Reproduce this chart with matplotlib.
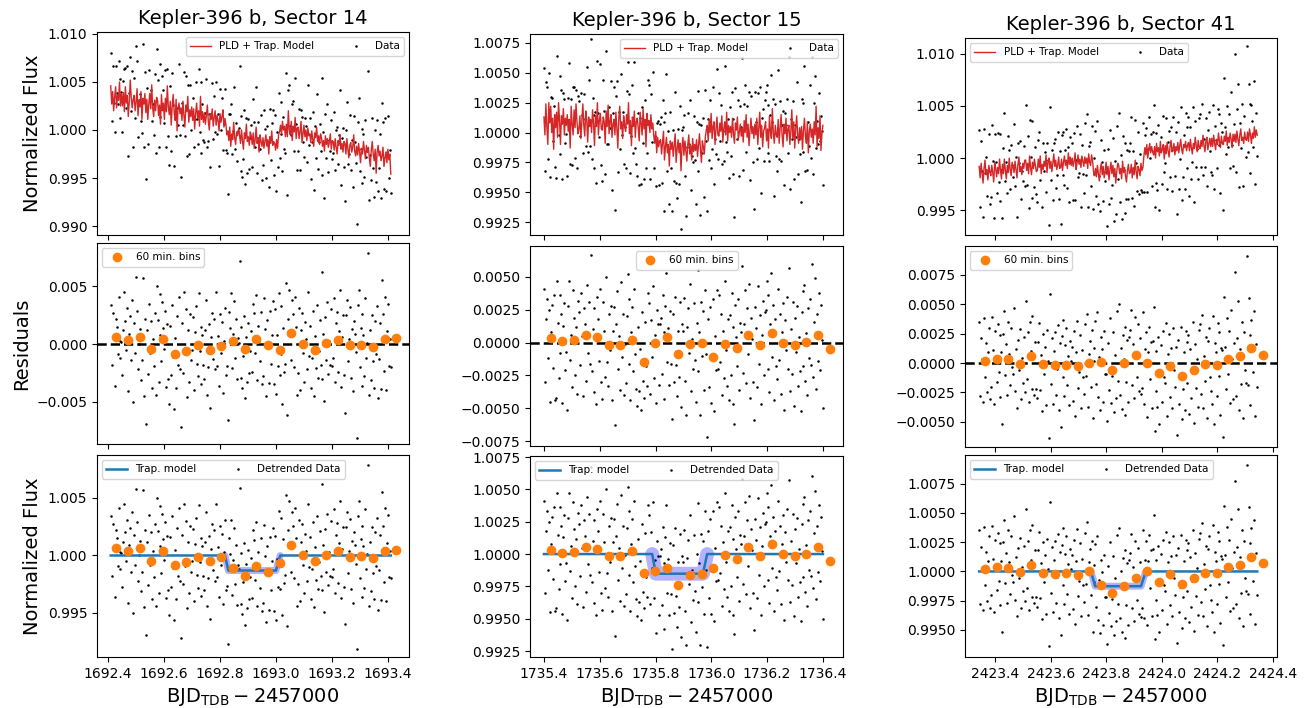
import numpy as np
import matplotlib
matplotlib.use("Agg")
import matplotlib.pyplot as plt
from matplotlib.ticker import MultipleLocator

# ==========================
# DATA (flux values in units of 1e-4, one row = one 60 min. chunk)
# ==========================

TITLES = ["Kepler-396 b, Sector 14", "Kepler-396 b, Sector 15", "Kepler-396 b, Sector 41"]

T_START = [1692.41, 1735.40, 2423.343]
T_END = [1693.41, 1736.40, 2424.343]

RESID_S14 = [
    [34, -18, 27, 8, -36, 22, 15, -9, 41, 3, -12, 2],
    [-27, 12, 45, 20, -5, 31, -41, 9, 24, -14, 38, -50],
    [18, -8, 58, 29, -22, 0, 13, -31, -14, 57, -45, 22],
    [-69, 12, -26, 35, -8, 20, -38, 4, -19, 27, -44, 50],
    [21, -33, 43, 8, -15, 36, 14, -4, 29, -37, 17, -30],
    [-52, 16, -27, 34, -11, -56, 5, -38, 24, -18, 41, -22],
    [-72, 18, -25, 45, -9, 30, -46, 12, -33, 26, -14, -5],
    [23, -40, 10, 33, -17, -28, 44, -6, 15, -35, 8, -18],
    [-30, 12, 38, -44, -20, 17, -55, 6, 27, -13, 22, -22],
    [45, -19, 7, -36, 26, -8, 19, -42, 3, 31, -27, -19],
    [-66, 28, 14, 44, -21, 9, 37, -12, 22, -30, 5, 1],
    [72, -29, 15, -38, -10, 24, -47, 6, -33, 18, -25, -6],
    [11, -24, 35, 27, -8, 42, -31, 16, 3, -15, 28, -35],
    [-28, 40, 13, -45, 21, -3, -34, 29, -17, 8, 37, -35],
    [30, -43, 8, -19, 44, -27, -9, 33, -52, 14, -24, -17],
    [53, -61, 22, 47, 9, -14, 38, 26, -20, 41, 15, -44],
    [-25, 31, -40, 12, 27, -8, -33, 19, 4, -22, 45, -10],
    [16, -38, -12, 29, -45, 7, -21, 34, -29, -6, 21, -18],
    [62, -30, 9, -49, 23, -14, 36, -26, 3, -18, 30, -19],
    [-12, 40, -33, 18, 28, -24, 11, 47, -37, 6, 25, -27],
    [-60, 25, 38, -15, 4, 32, -29, 13, -41, 20, 9, -7],
    [-81, 34, 47, -20, 14, -36, 26, 8, -28, 40, -12, 1],
    [79, -44, 12, -31, 25, -15, -38, 20, -9, 33, -47, -13],
    [18, -39, 55, 26, -23, 41, -40, 11, 35, -19, 4, -20],
]

PLD_S14 = [
    [46, 27, 40, 20, 34, 45, 23, 36, 31, 50, 25, 38],
    [25, 39, 19, 45, 28, 36, 14, 30, 52, 34, 23, 32],
    [36, 20, 29, 43, 15, 31, 24, 40, 11, 33, 27, 38],
    [18, 32, 11, 27, 38, 22, 47, 23, 14, 31, 20, 34],
    [31, 15, 26, 6, 37, 20, 28, 11, 33, 19, 46, 24],
    [16, 30, 5, 25, 37, 19, 10, 32, -1, 23, 28, 17],
    [23, 10, 30, 15, 3, 26, 19, 35, 8, 21, 14, 24],
    [10, 22, 1, 17, 28, 13, 20, 4, 35, 11, 19, 8],
    [18, 6, 15, 26, 9, 0, 17, 11, 22, 4, 13, 20],
    [5, 15, 10, -1, 17, 8, 14, 21, 3, 12, 6, -5],
    [-1, -11, 3, -17, -4, -10, 8, -8, -15, -2, -6, 1],
    [-5, -14, 0, -11, -20, -3, -9, 6, -12, -7, -16, -2],
    [-6, -15, -3, -19, -10, 3, -14, -8, -23, -5, -12, -17],
    [-8, -19, -12, -5, -17, -10, -25, -7, -14, -1, -16, -12],
    [-14, -21, -10, -19, -5, -2, 5, -4, 9, 0, 4, -7],
    [6, -7, 20, 0, -5, 9, -11, 4, -2, 13, -9, 2],
    [3, -9, -2, 9, -13, -4, 5, -7, 0, -11, 2, -6],
    [-4, -13, -1, -10, -17, -3, -8, 3, -12, -6, -15, -4],
    [-8, -17, -11, -22, -6, -15, -9, -18, -13, -4, -20, -11],
    [-12, -21, -9, -18, -25, -11, -16, -5, -20, -14, -23, -12],
    [-14, -25, -9, -20, -29, -16, -13, -23, -18, -5, -22, -27],
    [-17, -26, -14, -23, -34, -19, -25, -12, -21, -30, -16, -23],
    [-18, -29, -38, -21, -12, -25, -32, -20, -45, -23, -16, -27],
    [-22, -32, -27, -18, -38, -29, -23, -34, -20, -31, -25, -46],
]

RESID_S15 = [
    [41, -30, 18, 33, -12, 25, -45, 8, 29, -19, 36, -44],
    [-42, 47, 15, -27, 36, -8, 22, -46, 13, 30, -21, -7],
    [-51, 28, 47, -13, 6, -34, 40, 19, -25, 12, -39, 32],
    [23, -17, 38, 5, -41, 26, 14, -29, 44, -8, 31, -16],
    [67, -22, 10, -38, 26, 3, -47, 35, 18, -14, 41, -30],
    [-43, 31, 9, -26, 50, -15, -33, 22, -6, 28, -44, 9],
    [27, -63, 14, 39, -20, 5, -36, 46, -11, 22, -40, -1],
    [-31, 20, 52, -16, 33, -44, 8, 27, -22, 41, -9, -35],
    [-48, 12, -37, -5, -51, 23, -29, -42, 16, -18, -33, 38],
    [30, -39, 17, -11, 43, -27, 6, -46, 25, 14, -32, 14],
    [19, -24, 36, 8, -43, 28, 53, -15, 11, -32, 24, -16],
    [-58, 22, -30, 35, -17, -41, 9, -26, 31, -49, 14, 9],
    [34, -29, -55, 12, 26, -8, 45, -37, 3, -20, 30, -13],
    [-45, 15, 55, -22, 8, -55, 31, -10, 24, -36, 40, -9],
    [-72, 18, -34, 27, -46, -9, 33, -52, 5, -21, 40, -20],
    [36, -15, 22, -40, 9, -27, 47, -6, -33, 18, -44, 21],
    [-25, 38, -47, 12, -62, 29, 4, -18, 33, -36, 15, 8],
    [58, -23, 14, 40, -31, 26, -9, 45, -42, 19, 3, -30],
    [-59, 27, 11, -34, 43, -16, 21, -47, 6, 32, -25, 23],
    [25, 47, -20, 36, -38, 14, 53, -11, 29, -44, 18, -18],
    [-28, 41, -13, 22, -39, 8, 30, -51, 17, -6, 35, -20],
    [57, -37, 10, -24, 31, -48, 19, -7, 28, -33, 4, -22],
    [-52, 23, 39, -18, 44, -29, 7, -40, 26, -12, 33, -17],
    [60, -26, 16, 49, -35, 22, -14, 38, -21, 29, 2, -50],
]

PLD_S15 = [
    [13, -2, 24, 5, -10, 25, 8, 22, 0, 12, -14, 15],
    [4, 17, -4, 25, 11, -10, 14, 7, 20, -2, 12, 6],
    [15, 1, 11, -13, 22, 7, -2, 19, 4, 24, 9, -1],
    [3, 14, -5, 10, 24, 6, -3, 18, 11, -8, 13, 5],
    [11, 0, 19, 8, -11, 14, 5, 25, -2, 10, 16, 3],
    [2, 13, 9, -9, 18, 5, 23, -1, 10, 15, -4, 7],
    [11, -2, 17, 4, -13, 12, 22, 3, 9, -5, 14, 6],
    [1, 15, 7, 25, -1, 10, -11, 13, 5, 18, -4, 9],
    [12, 4, -7, 17, 8, -2, 20, 3, 11, -12, 16, 6],
    [10, 0, 15, 3, 8, -3, -9, 1, -17, -4, -12, -7],
    [-6, -18, -9, 1, -23, -12, -4, -17, -10, -28, -7, -14],
    [-8, -20, -11, -1, -25, -14, -6, -17, -9, -32, -12, -4],
    [-19, -7, -15, -24, -10, -2, -18, -11, -23, -5, -16, -10],
    [-15, -6, -20, -10, -1, -14, -25, -7, -12, -18, -4, 2],
    [6, -7, 11, 0, 16, -5, 5, 9, -10, 3, 13, -2],
    [-3, 8, 1, 14, -8, 3, 9, -2, 17, -7, 6, 0],
    [5, -4, 12, -1, -9, 8, 2, 13, -6, 0, 7, -3],
    [4, -8, 10, 0, 15, -4, 7, -11, 2, 12, -1, 5],
    [-5, 7, -2, 12, -10, 3, 17, -4, 6, -12, 1, 4],
    [9, -7, 3, -13, 14, 1, -5, 20, -1, -9, 6, -2],
    [-4, 11, -9, 4, 15, -2, -12, 7, -1, 12, -7, 3],
    [6, -10, 1, 19, -5, 9, -13, 3, 14, -2, -9, 4],
    [-6, 5, -14, 2, 12, -3, -9, 9, -17, 1, 7, -4],
    [3, -9, 9, -2, 22, -12, 4, -5, 14, -15, -1, 6],
]

RESID_S41 = [
    [35, -28, 21, 3, -33, 38, -12, 17, -25, 9, 30, -31],
    [-20, 39, 11, -35, 27, 6, -16, 33, -8, 24, -29, 9],
    [-52, 25, 44, -10, 16, -27, 35, 8, -19, 30, -3, -9],
    [47, -24, 12, -38, 20, -6, 29, -31, 4, -17, 22, -25],
    [53, -14, 26, -33, 35, 10, -22, 40, 4, -27, 18, -22],
    [-30, 18, 34, -23, 7, -41, 25, -9, 14, -36, 28, 2],
    [-64, 59, -18, 21, -35, 10, 26, -27, -5, 32, -40, 17],
    [-54, 23, 37, -12, -28, 15, 30, -19, 6, -36, 19, 2],
    [14, -32, 27, -45, 9, 36, -21, -8, 24, -38, 11, -12],
    [-26, 33, -11, 42, -37, 8, 19, -20, 28, -47, 13, 2],
    [36, -18, 43, -29, 5, -40, 22, 12, -33, 27, -9, -9],
    [-49, 17, -23, 38, -34, -11, 26, -42, 7, -30, 44, -15],
    [50, -27, 13, -39, 24, 3, -44, 31, -16, 20, -33, 22],
    [28, 45, -19, 16, -30, 39, 8, -12, 33, -24, 21, -26],
    [-21, 43, -35, 12, 26, -46, 9, 31, -14, 18, -38, 19],
    [48, -58, -24, 10, -37, 22, -52, -9, 15, -33, 27, -12],
    [-17, 34, -45, 8, 25, -29, 13, -38, 30, -6, -20, 14],
    [-61, 20, -35, -13, 31, -48, -22, 9, -40, 27, -17, 18],
    [24, -43, 12, -30, -8, 35, -51, 16, -21, 3, -37, 28],
    [33, -26, 41, -38, 6, -15, 22, -47, 19, 30, -12, -24],
    [-35, 40, -52, 17, 9, -28, 34, -11, 26, -44, 13, 11],
    [-63, 56, 14, -22, 38, -9, 27, -34, 45, 3, -31, 17],
    [77, -28, 21, 53, -40, 12, -18, 35, -47, 26, -6, -17],
    [91, -19, 55, 24, -36, 37, 12, -8, 44, -45, 16, -20],
]

PLD_S41 = [
    [-8, -19, -5, -15, -24, -10, -2, -16, -11, -21, -7, -13],
    [-17, -7, -14, -23, -4, -10, -18, -9, -15, -1, -12, -20],
    [-6, -15, -1, -12, -20, -7, -14, 0, -11, -17, -4, -9],
    [-14, -3, -11, -19, -6, 1, -13, -8, -16, -5, -10, -2],
    [-2, -12, -5, -15, 2, -9, -16, -4, -10, -1, -7, -13],
    [-12, -1, -9, 2, -15, -6, -11, -3, -8, 3, -14, -4],
    [0, -10, -3, -13, -5, 4, -8, -2, -11, -7, 1, -10],
    [-9, -1, -12, -4, 2, -7, -2, -10, 5, -6, 1, -7],
    [0, -8, -3, 5, -11, -5, 3, -6, -1, -9, 2, -3],
    [-8, 1, -5, 0, -10, 4, -4, -7, 3, -2, -13, -17],
    [-10, -18, -7, -15, -22, -11, -5, -16, -8, -19, -13, -4],
    [-16, -8, -21, -11, -4, -15, -7, -18, -10, -24, -13, -5],
    [-7, -15, -10, -20, -3, -14, -9, -17, -23, -12, -6, -15],
    [-14, -6, -19, -9, -16, -2, -13, -20, -8, -11, -17, -5],
    [-12, -9, 2, 10, 3, 13, 0, 8, 14, 5, 11, 6],
    [3, 11, 0, 14, 6, 10, 2, 16, 5, 8, 13, -1],
    [12, 4, 15, 7, 1, 11, 17, 6, 9, 14, 3, 11],
    [7, 15, 5, 12, 18, 8, 4, 13, 10, 16, 7, 12],
    [15, 7, 18, 10, 4, 14, 9, 20, 12, 6, 17, 10],
    [9, 17, 11, 22, 12, 6, 16, 20, 8, 14, 19, 11],
    [19, 11, 22, 14, 8, 18, 13, 24, 16, 10, 21, 14],
    [13, 21, 16, 26, 12, 20, 15, 24, 18, 10, 23, 16],
    [23, 15, 26, 18, 12, 22, 28, 17, 20, 14, 25, 18],
    [17, 25, 16, 28, 22, 14, 24, 19, 30, 20, 27, 22],
]

# 60 min. bins of the residuals
BIN_T_S14 = [1692.430, 1692.472, 1692.513, 1692.555, 1692.597, 1692.638, 1692.680,
             1692.722, 1692.763, 1692.805, 1692.847, 1692.888, 1692.930, 1692.972,
             1693.013, 1693.055, 1693.097, 1693.138, 1693.180, 1693.222, 1693.263,
             1693.305, 1693.347, 1693.388, 1693.430]
BIN_R_S14 = [6.4, 3.5, 6.4, -4.7, 4.1, -8.7, -6.1, -0.9, -5.2, -1.7, 2.6, -4.4, 4.1,
             -1.2, -5.2, 9.3, 0.0, -5.2, 0.6, 3.5, -0.9, -0.6, -2.3, 4.1, 4.9]

BIN_T_S15 = [1735.424, 1735.466, 1735.507, 1735.549, 1735.591, 1735.632, 1735.674,
             1735.716, 1735.757, 1735.799, 1735.841, 1735.882, 1735.924, 1735.966,
             1736.007, 1736.049, 1736.091, 1736.132, 1736.174, 1736.216, 1736.257,
             1736.299, 1736.341, 1736.382, 1736.424]
BIN_R_S15 = [3.3, 1.0, 1.8, 5.8, 4.1, -1.5, -1.5, 2.0, -14.5, -0.5, 4.1, -8.4, -1.0,
             -0.3, -10.9, -1.0, -4.1, 5.8, -1.5, 7.6, -0.3, -1.8, 0.3, 5.8, -5.1]

BIN_T_S41 = [2423.364, 2423.406, 2423.447, 2423.489, 2423.531, 2423.572, 2423.614,
             2423.656, 2423.697, 2423.739, 2423.781, 2423.822, 2423.864, 2423.906,
             2423.947, 2423.989, 2424.031, 2424.072, 2424.114, 2424.156, 2424.197,
             2424.239, 2424.281, 2424.322, 2424.364]
BIN_R_S41 = [2.0, 3.4, 3.2, -0.6, 5.7, -0.9, -2.0, -1.4, -2.9, 0.3, 0.6, -6.0, 0.3,
             6.6, 0.3, -8.6, -2.6, -10.9, -6.0, -0.9, -1.7, 3.4, 5.7, 12.6, 6.9]

# Trapezoid transit model (breakpoints)
TRAP_T_S14 = [1692.41, 1692.818, 1692.830, 1693.000, 1693.015, 1693.41]
TRAP_F_S14 = [1.0, 1.0, 0.99869, 0.99869, 1.0, 1.0]
TRAP_T_S15 = [1735.40, 1735.788, 1735.801, 1735.970, 1735.985, 1736.40]
TRAP_F_S15 = [1.0, 1.0, 0.99848, 0.99848, 1.0, 1.0]
TRAP_T_S41 = [2423.343, 2423.745, 2423.760, 2423.925, 2423.942, 2424.343]
TRAP_F_S41 = [1.0, 1.0, 0.99874, 0.99874, 1.0, 1.0]

RESID = [RESID_S14, RESID_S15, RESID_S41]
PLD = [PLD_S14, PLD_S15, PLD_S41]
BIN_T = [BIN_T_S14, BIN_T_S15, BIN_T_S41]
BIN_R = [BIN_R_S14, BIN_R_S15, BIN_R_S41]
TRAP_T = [TRAP_T_S14, TRAP_T_S15, TRAP_T_S41]
TRAP_F = [TRAP_F_S14, TRAP_F_S15, TRAP_F_S41]

# ==========================
# LAYOUT
# ==========================

W, H = 1308, 708

COL_X = [(97, 409), (530, 843), (965, 1277)]
ROW_Y = [
    [(32, 235), (243, 444), (455, 657)],
    [(34, 235), (246, 446), (456, 657)],
    [(38, 235), (246, 447), (455, 657)],
]
XLIM = [(1692.361, 1693.475), (1735.35, 1736.472), (2423.292, 2424.414)]
YLIM = [
    [(0.98907, 1.0102), (-0.00865, 0.00874), (0.99117, 1.00874)],
    [(0.99142, 1.00825), (-0.00788, 0.00736), (0.99204, 1.00758)],
    [(0.99261, 1.01153), (-0.00714, 0.00995), (0.99269, 1.00995)],
]
YSTEP = [[0.005, 0.005, 0.005], [0.0025, 0.0025, 0.0025], [0.005, 0.0025, 0.0025]]
LEG_LOC = [
    ["upper right", "upper left", "upper left"],
    ["upper right", "upper center", "upper left"],
    ["upper left", "upper left", "upper left"],
]
BAND_LW = [5, 10, 5]

RED = "#d62728"
ORANGE = "#ff7f0e"
BLUE = "#1f77b4"

fig = plt.figure(figsize=(W / 100, H / 100), dpi=100)


def make_ax(col, row):
    l, r = COL_X[col]
    t, b = ROW_Y[col][row]
    ax = fig.add_axes([l / W, 1 - b / H, (r - l) / W, (b - t) / H])
    ax.set_xlim(*XLIM[col])
    ax.set_ylim(*YLIM[col][row])
    ax.xaxis.set_major_locator(MultipleLocator(0.2))
    ax.yaxis.set_major_locator(MultipleLocator(YSTEP[col][row]))
    ax.ticklabel_format(useOffset=False)
    ax.tick_params(labelsize=10)
    if row < 2:
        ax.tick_params(labelbottom=False)
    return ax


for col in range(3):
    resid = np.ravel(RESID[col]) * 1e-4
    pld = np.ravel(PLD[col]) * 1e-4
    t = np.linspace(T_START[col], T_END[col], len(resid))
    trap_at_t = np.interp(t, TRAP_T[col], TRAP_F[col])
    bin_t = np.array(BIN_T[col])
    bin_r = np.array(BIN_R[col]) * 1e-4
    bin_det = np.interp(bin_t, TRAP_T[col], TRAP_F[col]) + bin_r

    # --- top: raw data + PLD model
    ax = make_ax(col, 0)
    dots, = ax.plot(t, 1 + pld + resid, "o", color="k", ms=1.8, mew=0, label="Data")
    line, = ax.plot(t, 1 + pld, color=RED, lw=1.0, label="PLD + Trap. Model")
    ax.legend(handles=[line, dots], loc=LEG_LOC[col][0], ncol=2, fontsize=7.5,
              columnspacing=3.0)
    ax.set_title(TITLES[col], fontsize=14)
    if col == 0:
        ax.set_ylabel("Normalized Flux", fontsize=14)

    # --- middle: residuals
    ax = make_ax(col, 1)
    ax.plot(t, resid, "o", color="k", ms=1.8, mew=0)
    ax.axhline(0, color="k", ls="--", lw=1.8, zorder=2)
    ax.plot(bin_t, bin_r, "o", color=ORANGE, ms=6, label="60 min. bins", zorder=3)
    ax.legend(loc=LEG_LOC[col][1], fontsize=7.5)
    if col == 0:
        ax.set_ylabel("Residuals", fontsize=14)

    # --- bottom: detrended data + trapezoid model
    ax = make_ax(col, 2)
    dots, = ax.plot(t, trap_at_t + resid, "o", color="k", ms=1.8, mew=0,
                    label="Detrended Data")
    ax.plot(TRAP_T[col][1:5], TRAP_F[col][1:5], color="blue", alpha=0.3,
            lw=BAND_LW[col], solid_capstyle="round", solid_joinstyle="round", zorder=2)
    line, = ax.plot(TRAP_T[col], TRAP_F[col], color=BLUE, lw=1.8, label="Trap. model",
                    zorder=3)
    ax.plot(bin_t, bin_det, "o", color=ORANGE, ms=6, zorder=4)
    ax.legend(handles=[line, dots], loc=LEG_LOC[col][2], ncol=2, fontsize=7.5,
              columnspacing=3.0)
    ax.set_xlabel(r"$\mathrm{BJD_{TDB}} - 2457000$", fontsize=14)
    if col == 0:
        ax.set_ylabel("Normalized Flux", fontsize=14)

fig.savefig("out.png", dpi=100)
